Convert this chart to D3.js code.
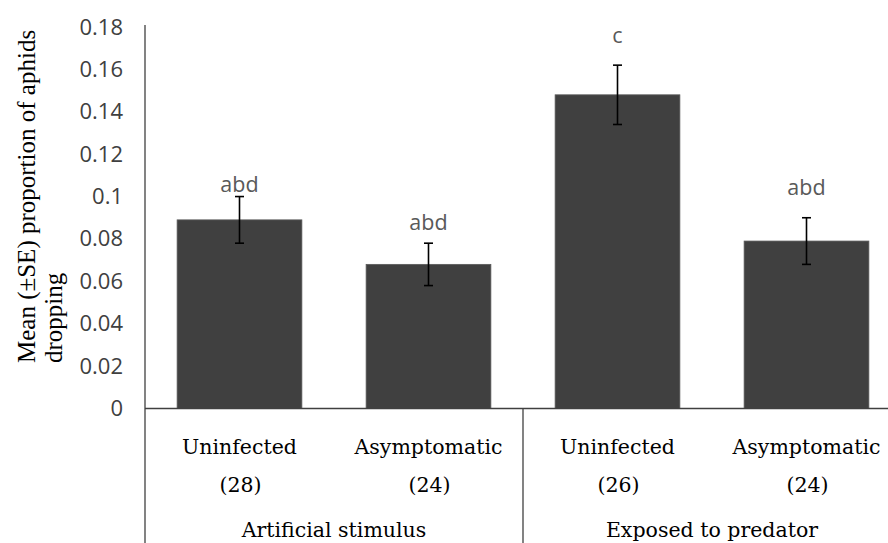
<html>
<head>
  <script src="https://cdn.jsdelivr.net/npm/d3@7"></script>
  <style>
    body { margin: 0; background: #fff; }
    .tick-label { font-family: "Open Sans"; font-size: 22px; fill: #404040; }
    .letter { font-family: "Open Sans"; font-size: 21.5px; fill: #595959; }
    .cat { font-family: "DejaVu Serif"; font-size: 20.5px; fill: #000; }
    .ytitle { font-family: "Liberation Serif"; font-size: 25px; fill: #000; }
  </style>
</head>
<body>
<svg id="chart" width="888" height="543"></svg>
<script>
  // data
  const categories = ["Uninfected", "Asymptomatic", "Uninfected", "Asymptomatic"];
  const sampleSizes = ["(28)", "(24)", "(26)", "(24)"];
  const groups = ["Artificial stimulus", "Exposed to predator"];
  const means = [0.089, 0.068, 0.148, 0.079];
  const errors = [0.011, 0.010, 0.014, 0.011];
  const letters = ["abd", "abd", "c", "abd"];
  const letterAt = [0.1023, 0.0842, 0.1723, 0.1007];
  const yTicks = [0, 0.02, 0.04, 0.06, 0.08, 0.1, 0.12, 0.14, 0.16, 0.18];
  const yTickLabels = ["0", "0.02", "0.04", "0.06", "0.08", "0.1", "0.12", "0.14", "0.16", "0.18"];

  const svg = d3.select("svg#chart");
  const plotLeft = 145, plotRight = 901, plotTop = 27, zeroY = 408.5;

  const x = d3.scaleBand().domain(d3.range(categories.length))
              .range([plotLeft, plotRight]).paddingInner(0.34).paddingOuter(0.17);
  const y = d3.scaleLinear().domain([0, 0.18]).range([zeroY, plotTop]);
  const g = d3.scaleBand().domain(d3.range(groups.length)).range([plotLeft, plotRight]);

  // bars
  svg.selectAll("rect.bar").data(means).join("rect")
     .attr("class", "bar")
     .attr("x", (d, i) => x(i))
     .attr("y", d => y(d))
     .attr("width", x.bandwidth())
     .attr("height", d => y(0) - y(d))
     .attr("fill", "#404040")
     .attr("stroke", "#5a5a5a")
     .attr("stroke-width", 0.8);

  // error bars
  means.forEach((m, i) => {
    const cx = x(i) + x.bandwidth() / 2;
    const e = svg.append("g").attr("stroke", "#000").attr("stroke-width", 1.6);
    e.append("line").attr("x1", cx).attr("x2", cx).attr("y1", y(m + errors[i])).attr("y2", y(m - errors[i]));
    e.append("line").attr("x1", cx - 4.5).attr("x2", cx + 4.5).attr("y1", y(m + errors[i])).attr("y2", y(m + errors[i]));
    e.append("line").attr("x1", cx - 4.5).attr("x2", cx + 4.5).attr("y1", y(m - errors[i])).attr("y2", y(m - errors[i]));

    svg.append("text").attr("class", "letter")
       .attr("x", cx).attr("y", y(letterAt[i]))
       .attr("text-anchor", "middle")
       .text(letters[i]);
  });

  // y axis (no tick marks, Excel style)
  const yAxis = svg.append("g").attr("transform", "translate(" + plotLeft + ",0)")
                   .call(d3.axisLeft(y).tickValues(yTicks).tickSize(0).tickPadding(22)
                           .tickFormat((d, i) => yTickLabels[i]));
  yAxis.select(".domain").remove();
  yAxis.selectAll("text").attr("class", "tick-label");
  yAxis.attr("font-size", null).attr("font-family", null);

  const axisColor = "#404040";
  svg.append("line").attr("x1", plotLeft).attr("x2", plotLeft).attr("y1", 25).attr("y2", 543)
     .attr("stroke", axisColor).attr("stroke-width", 1.3);
  svg.append("line").attr("x1", plotLeft).attr("x2", plotRight).attr("y1", y(0)).attr("y2", y(0))
     .attr("stroke", axisColor).attr("stroke-width", 1.3);
  groups.forEach((d, i) => {
    svg.append("line").attr("x1", g(i) + g.bandwidth()).attr("x2", g(i) + g.bandwidth())
       .attr("y1", y(0)).attr("y2", 543)
       .attr("stroke", axisColor).attr("stroke-width", 1.3);
  });

  // category labels
  categories.forEach((c, i) => {
    const cx = x(i) + x.bandwidth() / 2;
    svg.append("text").attr("class", "cat").attr("x", cx).attr("y", 454)
       .attr("text-anchor", "middle").text(c);
    svg.append("text").attr("class", "cat").attr("x", cx + 1).attr("y", 492)
       .attr("text-anchor", "middle").text(sampleSizes[i]);
  });
  groups.forEach((d, i) => {
    svg.append("text").attr("class", "cat").attr("x", g(i) + g.bandwidth() / 2).attr("y", 537)
       .attr("text-anchor", "middle").text(d);
  });

  // y title, two lines, start aligned
  const yt = svg.append("text").attr("class", "ytitle")
                .attr("transform", "translate(0,363) rotate(-90)");
  yt.append("tspan").attr("x", 0).attr("y", 35).text("Mean (±SE) proportion of aphids");
  yt.append("tspan").attr("x", 0).attr("y", 62).text("dropping");
</script>
</body>
</html>
